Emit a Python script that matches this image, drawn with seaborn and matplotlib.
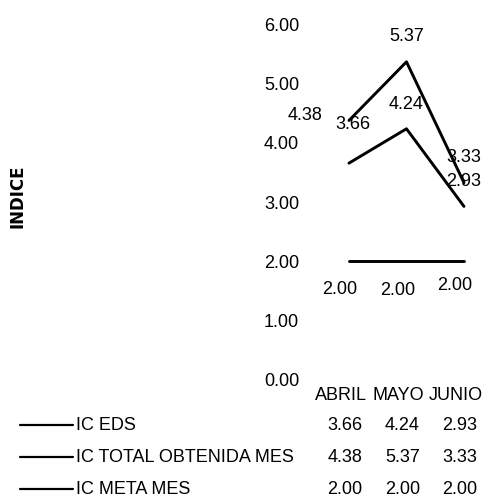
import matplotlib
matplotlib.use("Agg")
import matplotlib.pyplot as plt
from matplotlib.lines import Line2D
from matplotlib.transforms import blended_transform_factory, offset_copy
import pandas as pd
import seaborn as sns

# Monthly index values
meses = ["ABRIL", "MAYO", "JUNIO"]
series = ["IC EDS", "IC TOTAL OBTENIDA MES", "IC META MES"]
ic_eds = [3.66, 4.24, 2.93]
ic_total = [4.38, 5.37, 3.33]
ic_meta = [2.00, 2.00, 2.00]
y_ticks = [0, 1, 2, 3, 4, 5, 6]

valores = {"IC EDS": ic_eds, "IC TOTAL OBTENIDA MES": ic_total, "IC META MES": ic_meta}

sns.set_theme(style="white")
plt.rcParams["font.family"] = ["Liberation Sans", "DejaVu Sans"]

W, H = 490, 499
fig = plt.figure(figsize=(W / 100, H / 100), dpi=100)
ax = fig.add_axes([0.6418, 0.2385, 0.352, 0.7124])

df = pd.DataFrame(
    [(m, s, v) for s in series for m, v in zip(meses, valores[s])],
    columns=["mes", "serie", "valor"],
)
sns.lineplot(data=df, x="mes", y="valor", hue="serie", hue_order=series,
             palette=["black"] * 3, linewidth=2.1, legend=False, sort=False, ax=ax)

fs = 13

ax.set_xlim(-0.6, 2.4)
ax.set_ylim(0, 6)
ax.set_yticks(y_ticks, [f"{t:.2f}" for t in y_ticks])
ax.set_xticks([])
ax.set_xlabel("")
ax.set_ylabel("")
sns.despine(ax=ax, left=True, bottom=True)
ax.tick_params(axis="y", length=0, pad=11, labelsize=fs, colors="black")

# value labels next to each point (pixel offsets)
offsets = {
    "IC EDS": [(4, 39), (0, 24), (0, 25)],
    "IC TOTAL OBTENIDA MES": [(-44, 4.5), (0, 25), (0, 25)],
    "IC META MES": [(-9.5, -28), (-8.5, -29), (-9.5, -24)],
}
for s in series:
    for i, v in enumerate(valores[s]):
        ax.annotate(f"{v:.2f}", (i, v), xytext=offsets[s][i], textcoords="offset pixels",
                    ha="center", va="center", fontsize=fs, color="black", annotation_clip=False)

# data table under the plot
col_tr = blended_transform_factory(ax.transData, fig.transFigure)
head_tr = offset_copy(col_tr, fig=fig, x=-8, y=0, units="dots")
val_tr = offset_copy(col_tr, fig=fig, x=-4, y=0, units="dots")

for i, m in enumerate(meses):
    fig.text(i, 1 - 395 / H, m, transform=head_tr, ha="center", va="center",
             fontsize=fs, color="black")

row_y = [425, 457, 489]
for s, ry in zip(series, row_y):
    yf = 1 - ry / H
    fig.add_artist(Line2D([20 / W, 73 / W], [yf, yf], transform=fig.transFigure,
                          color="black", lw=1.6))
    fig.text(76 / W, yf, s, ha="left", va="center", fontsize=fs, color="black")
    for i, v in enumerate(valores[s]):
        fig.text(i, yf, f"{v:.2f}", transform=val_tr, ha="center", va="center",
                 fontsize=fs, color="black")

fig.text(18 / W, 1 - 196.5 / H, "INDICE", rotation=90, ha="center", va="center",
         fontsize=12, fontweight="bold", family="DejaVu Sans", color="black")

fig.savefig("out.png", dpi=100)
